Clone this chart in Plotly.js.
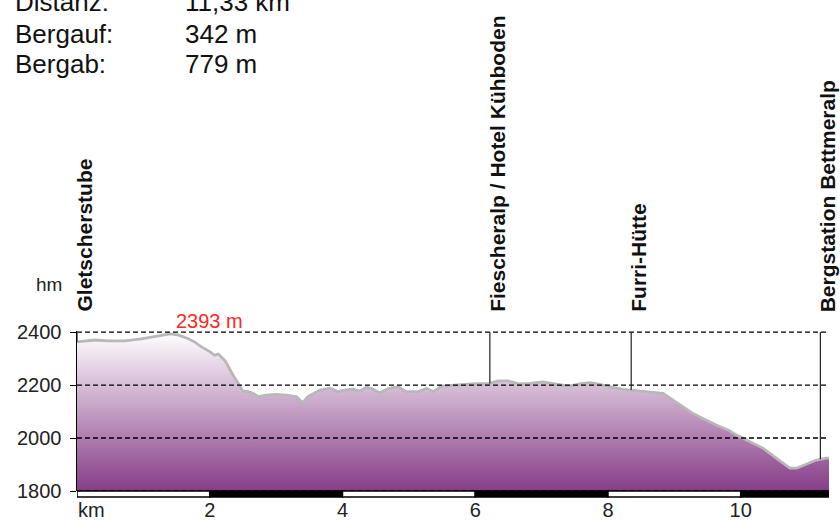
<!DOCTYPE html>
<html><head><meta charset="utf-8">
<script src="https://cdn.plot.ly/plotly-3.0.1.min.js"></script>
<style>html,body{margin:0;padding:0;background:#fff}#chart{width:840px;height:520px}</style>
</head><body><div id="chart"></div>
<script>
// Elevation profile (km, m)
const km = [0.00, 0.27, 0.47, 0.72, 0.97, 1.22, 1.40, 1.52, 1.67, 1.77, 1.87, 2.00, 2.07, 2.13, 2.23,
  2.35, 2.43, 2.50, 2.58, 2.65, 2.73, 2.85, 3.00, 3.16, 3.31, 3.40, 3.48, 3.66, 3.81, 3.93, 4.03,
  4.16, 4.26, 4.36, 4.44, 4.56, 4.69, 4.84, 4.96, 5.14, 5.27, 5.37, 5.49, 5.69, 5.94, 6.22, 6.34,
  6.49, 6.60, 6.67, 6.82, 7.02, 7.22, 7.42, 7.57, 7.73, 7.88, 8.02, 8.23, 8.35, 8.53, 8.83, 8.98,
  9.13, 9.28, 9.43, 9.63, 9.81, 9.94, 10.14, 10.34, 10.54, 10.74, 10.84, 10.99, 11.14, 11.27, 11.33];
const elev = [2363, 2370, 2367, 2367, 2374, 2385, 2393, 2389, 2376, 2363, 2345, 2326, 2313, 2317, 2292,
  2238, 2206, 2178, 2175, 2169, 2156, 2162, 2165, 2162, 2156, 2133, 2156, 2181, 2188, 2175, 2181,
  2184, 2177, 2192, 2187, 2171, 2187, 2194, 2175, 2175, 2187, 2175, 2196, 2200, 2204, 2206, 2216,
  2216, 2208, 2204, 2206, 2212, 2203, 2196, 2204, 2209, 2203, 2194, 2184, 2181, 2174, 2169, 2143,
  2118, 2093, 2074, 2049, 2030, 2011, 1986, 1961, 1923, 1886, 1886, 1901, 1917, 1923, 1925];

const waypointKm = [0, 6.22, 8.35, 11.2];
const waypointNames = ['Gletscherstube', 'Fiescheralp / Hotel Kühboden', 'Furri-Hütte', 'Bergstation Bettmeralp'];

const statLabels = ['Distanz:', 'Bergauf:', 'Bergab:'];
const statValues = ['11,33 km', '342 m', '779 m'];

const yTicks = [1800, 2000, 2200, 2400];
const xTicks = [2, 4, 6, 8, 10];
const xTickText = ['2', '4', '6', '8', '10'];
const scaleBarKm = [0, 2, 4, 6, 8, 10, 11.33];

function interp(x) {
  for (let i = 0; i < km.length - 1; i++) {
    if (x >= km[i] && x <= km[i + 1]) {
      const t = (x - km[i]) / (km[i + 1] - km[i]);
      return elev[i] + t * (elev[i + 1] - elev[i]);
    }
  }
  return elev[elev.length - 1];
}

const FONT = 'Liberation Sans, Arial, sans-serif';
const L = 77, T = 331, PH = 160;

function pixAnno(text, px, py, xanchor, size, color) {
  return {
    text: text, showarrow: false,
    xref: 'paper', x: 0, xshift: px - L,
    yref: 'paper', y: 1, yshift: T - py,
    xanchor: xanchor, yanchor: 'middle',
    font: {family: FONT, size: size, color: color || '#111'}
  };
}

const annotations = [];
const rowY = [2, 34, 64];
statLabels.forEach((s, i) => {
  annotations.push(pixAnno(s, 13, rowY[i], 'left', 26));
  annotations.push(pixAnno(statValues[i], 183, rowY[i], 'left', 26));
});
annotations.push(pixAnno('hm', 64, 284, 'right', 19, '#222'));
annotations.push(pixAnno('km', 76, 510, 'left', 20, '#222'));

waypointNames.forEach((n, i) => {
  annotations.push({
    text: n, showarrow: false, textangle: -90,
    xref: 'x', x: waypointKm[i], xshift: 7,
    yref: 'paper', y: 1, yshift: T - 314,
    xanchor: 'center', yanchor: 'bottom',
    font: {family: FONT, size: 21, color: '#111', weight: 'bold'}
  });
});

let maxIdx = 0;
elev.forEach((v, i) => { if (v > elev[maxIdx]) maxIdx = i; });
annotations.push({
  text: elev[maxIdx] + ' m', showarrow: false,
  xref: 'x', x: km[maxIdx], xshift: 4,
  yref: 'y', y: elev[maxIdx],
  xanchor: 'left', yanchor: 'bottom',
  font: {family: FONT, size: 20, color: '#ff2626'}
});

const shapes = [];
yTicks.forEach(v => {
  shapes.push({type: 'line', xref: 'paper', x0: 0, x1: 1, yref: 'y', y0: v, y1: v,
    line: {color: '#000', width: 1.3, dash: '5px,3px'}, layer: 'above'});
});
waypointKm.forEach(k => {
  shapes.push({type: 'line', xref: 'x', x0: k, x1: k, yref: 'y', y0: yTicks[yTicks.length - 1], y1: interp(k),
    line: {color: '#222', width: 1.2}, layer: 'above'});
});
for (let i = 0; i < scaleBarKm.length - 1; i++) {
  shapes.push({type: 'rect', xref: 'x', x0: scaleBarKm[i], x1: scaleBarKm[i + 1],
    yref: 'paper', y0: -6 / PH, y1: 0,
    fillcolor: i % 2 ? '#000' : '#fff', line: {color: '#000', width: 1.5}, layer: 'above'});
}

const trace = {
  x: km, y: elev, type: 'scatter', mode: 'lines',
  line: {color: '#b8b8b8', width: 2.8},
  fill: 'tozeroy',
  fillgradient: {type: 'vertical', start: 1800, stop: 2400,
    colorscale: [[0, 'rgb(134,60,134)'], [1, 'rgb(255,255,255)']]},
  hoverinfo: 'skip'
};

const layout = {
  width: 840, height: 520,
  margin: {l: L, r: 840 - L - 752, t: T, b: 520 - T - PH},
  paper_bgcolor: '#fff', plot_bgcolor: '#fff',
  showlegend: false,
  font: {family: FONT, size: 20, color: '#222'},
  xaxis: {range: [0, 11.33], tickvals: xTicks, ticktext: xTickText, ticks: '',
    showgrid: false, zeroline: false, showline: false,
    tickfont: {family: FONT, size: 20, color: '#222'}, ticklabelstandoff: 5},
  yaxis: {range: [1800, 2404], tickvals: yTicks, ticks: 'outside', ticklen: 6, tickwidth: 1,
    tickcolor: '#000', showline: true, linecolor: '#000', linewidth: 1.5,
    showgrid: false, zeroline: false,
    tickfont: {family: FONT, size: 20, color: '#222'}, ticklabelstandoff: 4},
  shapes: shapes,
  annotations: annotations
};

Plotly.newPlot('chart', [trace], layout, {staticPlot: true, displayModeBar: false});
</script>
</body></html>
